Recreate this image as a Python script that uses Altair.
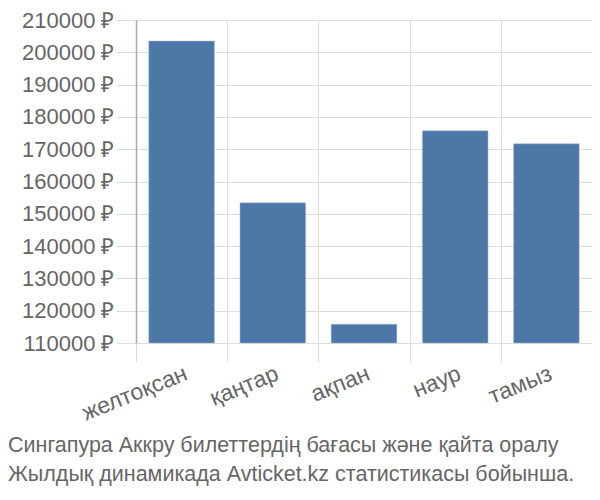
import altair as alt
import pandas as pd

months = ["желтоқсан", "қаңтар", "ақпан", "наур", "тамыз"]
prices = [203500, 153400, 115800, 175700, 171700]
y_ticks = [110000, 120000, 130000, 140000, 150000, 160000, 170000, 180000, 190000, 200000, 210000]
title_lines = ["Сингапура Аккру билеттердің бағасы және қайта оралу",
               "Жылдық динамикада Avticket.kz статистикасы бойынша."]

df = pd.DataFrame({"month": months, "price": prices})
FONT = "Liberation Sans"

chart = alt.Chart(df).mark_bar(color="#4c78a8", stroke="#a9bdd4", strokeWidth=0.5,
                               width=alt.RelativeBandSize(0.72)).encode(
    x=alt.X("month:N", sort=months, title=None,
            scale=alt.Scale(paddingInner=0, paddingOuter=0),
            axis=alt.Axis(labelAngle=-22, labelAlign="right", labelBaseline="top",
                          labelFontSize=23, labelColor="#666", labelFont=FONT,
                          labelPadding=0, tickBand="extent", tickSize=19,
                          tickColor="#ddd", grid=True, gridColor="#ddd",
                          domain=False)),
    y=alt.Y("price:Q", title=None,
            scale=alt.Scale(domain=[110000, 210000], zero=False, nice=False),
            axis=alt.Axis(values=y_ticks, labelExpr="datum.value + ' ₽'",
                          labelFontSize=22, labelColor="#666", labelFont=FONT,
                          tickSize=20, tickColor="#ddd", labelPadding=2,
                          grid=True, gridColor="#ddd", domainColor="#aaa",
                          domainWidth=1.5)),
    y2=alt.datum(110000),
).properties(
    width=456, height=323,
    autosize=alt.AutoSizeParams(type="none"),
    padding={"left": 128, "top": 12, "right": 0, "bottom": 149},
    title=alt.TitleParams(text=title_lines, orient="bottom", anchor="start",
                          frame="group", dx=-128, offset=10, fontSize=21.5,
                          font=FONT, fontWeight="normal", color="#666",
                          lineHeight=29, baseline="top"),
).configure_view(stroke=None)

chart.save("out.html", embed_options={"renderer": "svg", "actions": False})
